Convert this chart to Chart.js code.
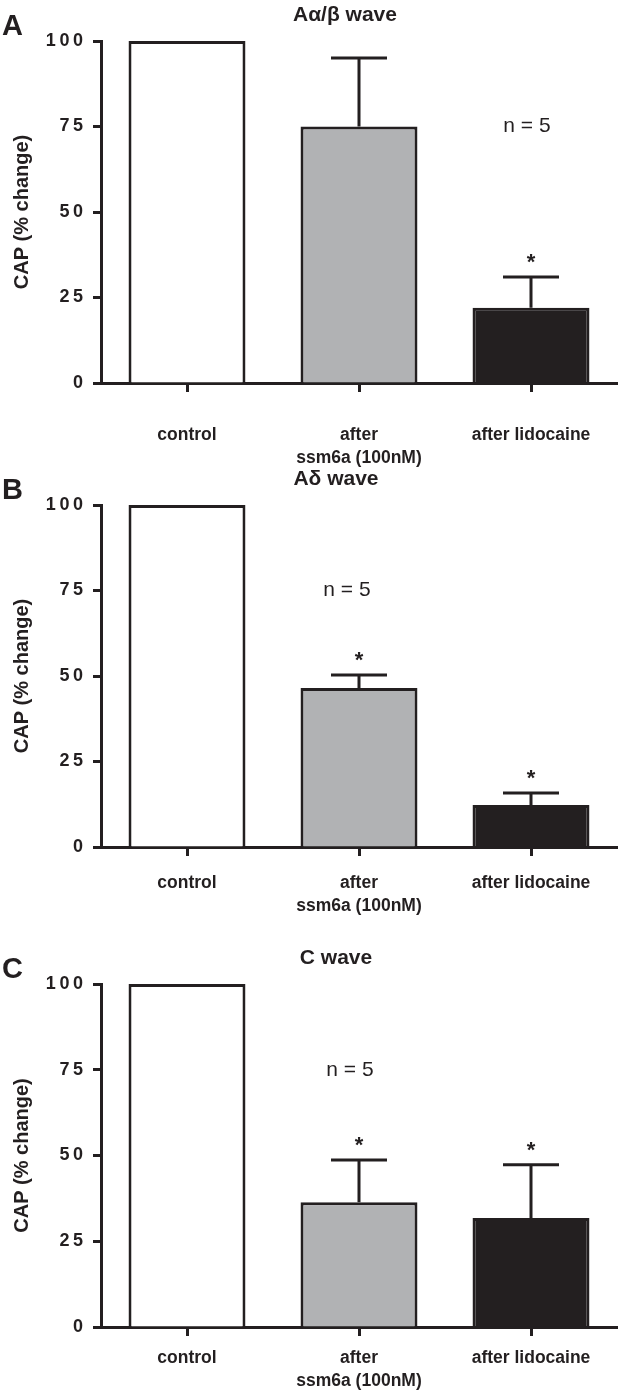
<!DOCTYPE html>
<html lang="en">
<head>
    <meta charset="UTF-8">
    <title>CAP change</title>
    <script src="https://cdn.jsdelivr.net/npm/chart.js"></script>
    <style>
        body { margin: 0; background: #fff; }
        #wrap { position: relative; width: 620px; height: 1395px; }
        .panel { position: absolute; left: 0; }
    </style>
</head>
<body>
    <div id="wrap">
        <div class="panel" style="top:0px"><canvas id="chartA" width="620" height="480"></canvas></div>
        <div class="panel" style="top:466px"><canvas id="chartB" width="620" height="469"></canvas></div>
        <div class="panel" style="top:935px"><canvas id="chartC" width="620" height="460"></canvas></div>
    </div>
    <script>
        // values (mean and upper SEM)
        const categories = ["control", ["after", "ssm6a (100nM)"], "after lidocaine"];
        const yTicks = [0, 25, 50, 75, 100];
        const barColors = ["#ffffff", "#b1b2b4", "#231f20"];

        const abMeans = [100, 75, 22];
        const abErrors = [0, 20, 9];
        const abSignificant = [false, false, true];

        const deltaMeans = [100, 46.5, 12.3];
        const deltaErrors = [0, 3.8, 3.5];
        const deltaSignificant = [false, true, true];

        const cMeans = [100, 36.4, 31.8];
        const cErrors = [0, 12.3, 15.5];
        const cSignificant = [false, true, true];

        const ink = "#231f20";
        const fontFamily = '"Liberation Sans", Arial, Helvetica, sans-serif';

        // error bars, asterisks, n label, panel letter and title
        const annotate = {
            id: "annotate",
            afterDatasetsDraw(chart, args, opts) {
                const { ctx, scales: { x, y } } = chart;
                ctx.save();
                ctx.strokeStyle = ink;
                ctx.fillStyle = ink;
                ctx.lineWidth = 3;
                opts.means.forEach((m, i) => {
                    const cx = x.getPixelForValue(i);
                    const top = y.getPixelForValue(m + opts.errors[i]);
                    if (opts.errors[i] > 0) {
                        ctx.beginPath();
                        ctx.moveTo(cx, y.getPixelForValue(m));
                        ctx.lineTo(cx, top);
                        ctx.moveTo(cx - 28, top);
                        ctx.lineTo(cx + 28, top);
                        ctx.stroke();
                    }
                    if (opts.significant[i]) {
                        ctx.font = "bold 22px " + fontFamily;
                        ctx.textAlign = "center";
                        ctx.textBaseline = "alphabetic";
                        ctx.fillText("*", cx, top - 8);
                    }
                });

                ctx.font = "21px " + fontFamily;
                ctx.textAlign = "center";
                ctx.textBaseline = "middle";
                ctx.fillText("n = 5", x.getPixelForValue(opts.nIndex) + opts.nShift, y.getPixelForValue(75));

                ctx.font = "bold 29px " + fontFamily;
                ctx.textAlign = "left";
                ctx.fillText(opts.letter, 2, y.top - 14);

                ctx.font = "bold 21px " + fontFamily;
                ctx.textAlign = "center";
                ctx.fillText(opts.title, opts.titleX, y.top - 26);
                ctx.restore();
            }
        };

        function makeChart(id, means, errors, significant, letter, title, titleX, nIndex, nShift, top, axisHeight, labelPad) {
            const ctx = document.getElementById(id).getContext("2d");
            return new Chart(ctx, {
                type: "bar",
                data: {
                    labels: categories,
                    datasets: [{
                        data: means,
                        backgroundColor: barColors,
                        borderColor: ink,
                        borderWidth: 3,
                        borderSkipped: "start",
                        barPercentage: 0.68,
                        categoryPercentage: 1,
                    }],
                },
                options: {
                    responsive: false,
                    animation: false,
                    layout: { padding: { left: 2, right: 3, top: top, bottom: 0 } },
                    plugins: {
                        legend: { display: false },
                        tooltip: { enabled: false },
                        annotate: { means, errors, significant, letter, title, titleX, nIndex, nShift },
                    },
                    scales: {
                        x: {
                            offset: true,
                            grid: { display: true, offset: false, drawOnChartArea: false, tickLength: 9, tickWidth: 3, tickColor: ink },
                            border: { display: true, width: 3, color: ink },
                            ticks: { color: ink, padding: labelPad, maxRotation: 0, font: { family: fontFamily, size: 17.5, weight: "bold", lineHeight: 1.3 } },
                            afterFit: (s) => {
                                s.height = axisHeight;
                                s.paddingLeft = 0;
                                s.paddingRight = 0;
                            },
                        },
                        y: {
                            min: 0,
                            max: 100,
                            afterBuildTicks: (s) => { s.ticks = yTicks.map(v => ({ value: v })); },
                            grid: { display: true, drawOnChartArea: false, tickLength: 8, tickWidth: 3, tickColor: ink },
                            border: { display: true, width: 3, color: ink },
                            ticks: {
                                color: ink,
                                padding: 10,
                                font: { family: fontFamily, size: 18, weight: "bold" },
                                callback: (v) => String(v).split("").join("\u2009"),
                            },
                            title: {
                                display: true,
                                text: "CAP (% change)",
                                color: ink,
                                padding: { top: 8, bottom: 0 },
                                font: { family: fontFamily, size: 20, weight: "bold" },
                            },
                            afterFit: (s) => { s.width = 99; },
                        },
                    },
                },
                plugins: [annotate],
            });
        }

        makeChart("chartA", abMeans, abErrors, abSignificant, "A", "A\u03b1/\u03b2 wave", 345, 2, -4, 41, 97, 32);
        makeChart("chartB", deltaMeans, deltaErrors, deltaSignificant, "B", "A\u03b4 wave", 336, 1, -12, 39, 88, 16);
        makeChart("chartC", cMeans, cErrors, cSignificant, "C", "C wave", 336, 1, -9, 49, 68, 11);
    </script>
</body>
</html>
